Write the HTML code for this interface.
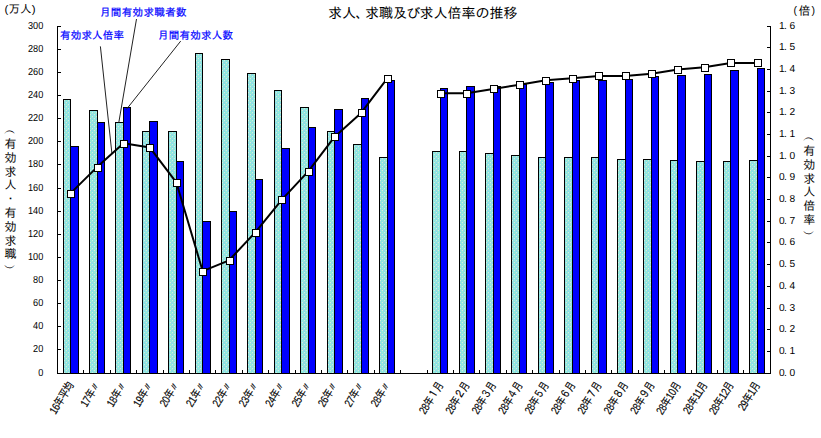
<!DOCTYPE html>
<html lang="ja"><head><meta charset="utf-8"><title>求人、求職及び求人倍率の推移</title>
<style>html,body{margin:0;padding:0;background:#fff}svg{display:block}text{font-family:"Liberation Sans", "IPAGothic", sans-serif;fill:#000}.x text{stroke:#000;stroke-width:0.15px}.b text{stroke:#00f;stroke-width:0.2px}.n text{stroke:none}</style>
</head><body>
<svg width="821" height="438" viewBox="0 0 821 438">
<rect x="0" y="0" width="821" height="438" fill="#fff"/>
<defs><pattern id="dp" width="4" height="4" patternUnits="userSpaceOnUse"><rect width="4" height="4" fill="#96d2eb"/><rect x="0" y="0" width="1" height="1" fill="#d7ebdc"/><rect x="1" y="0" width="1" height="1" fill="#87e8e4"/><rect x="2" y="0" width="1" height="1" fill="#9eead4"/><rect x="3" y="0" width="1" height="1" fill="#87e8e4"/><rect x="0" y="1" width="1" height="1" fill="#9eead4"/><rect x="2" y="1" width="1" height="1" fill="#87e8e4"/><rect x="3" y="1" width="1" height="1" fill="#9eead4"/><rect x="0" y="2" width="1" height="1" fill="#87e8e4"/><rect x="1" y="2" width="1" height="1" fill="#9eead4"/><rect x="2" y="2" width="1" height="1" fill="#d7ebdc"/><rect x="1" y="3" width="1" height="1" fill="#87e8e4"/><rect x="2" y="3" width="1" height="1" fill="#9eead4"/><rect x="3" y="3" width="1" height="1" fill="#87e8e4"/></pattern></defs>
<g shape-rendering="crispEdges" stroke="#000" stroke-width="1">
<rect x="63.5" y="99.5" width="7.0" height="274.0" fill="url(#dp)"/>
<rect x="70.5" y="146.5" width="8.0" height="227.0" fill="#0000ff"/>
<rect x="89.5" y="110.5" width="8.0" height="263.0" fill="url(#dp)"/>
<rect x="97.5" y="122.5" width="7.0" height="251.0" fill="#0000ff"/>
<rect x="115.5" y="122.5" width="8.0" height="251.0" fill="url(#dp)"/>
<rect x="123.5" y="107.5" width="7.0" height="266.0" fill="#0000ff"/>
<rect x="142.5" y="131.5" width="7.0" height="242.0" fill="url(#dp)"/>
<rect x="149.5" y="121.5" width="8.0" height="252.0" fill="#0000ff"/>
<rect x="168.5" y="131.5" width="8.0" height="242.0" fill="url(#dp)"/>
<rect x="176.5" y="161.5" width="7.0" height="212.0" fill="#0000ff"/>
<rect x="195.5" y="53.5" width="7.0" height="320.0" fill="url(#dp)"/>
<rect x="202.5" y="221.5" width="8.0" height="152.0" fill="#0000ff"/>
<rect x="221.5" y="59.5" width="8.0" height="314.0" fill="url(#dp)"/>
<rect x="229.5" y="211.5" width="7.0" height="162.0" fill="#0000ff"/>
<rect x="247.5" y="73.5" width="8.0" height="300.0" fill="url(#dp)"/>
<rect x="255.5" y="179.5" width="7.0" height="194.0" fill="#0000ff"/>
<rect x="274.5" y="90.5" width="7.0" height="283.0" fill="url(#dp)"/>
<rect x="281.5" y="148.5" width="8.0" height="225.0" fill="#0000ff"/>
<rect x="300.5" y="107.5" width="8.0" height="266.0" fill="url(#dp)"/>
<rect x="308.5" y="127.5" width="7.0" height="246.0" fill="#0000ff"/>
<rect x="327.5" y="131.5" width="7.0" height="242.0" fill="url(#dp)"/>
<rect x="334.5" y="109.5" width="8.0" height="264.0" fill="#0000ff"/>
<rect x="353.5" y="144.5" width="8.0" height="229.0" fill="url(#dp)"/>
<rect x="361.5" y="98.5" width="7.0" height="275.0" fill="#0000ff"/>
<rect x="379.5" y="157.5" width="8.0" height="216.0" fill="url(#dp)"/>
<rect x="387.5" y="80.5" width="7.0" height="293.0" fill="#0000ff"/>
<rect x="432.5" y="151.5" width="8.0" height="222.0" fill="url(#dp)"/>
<rect x="440.5" y="88.5" width="7.0" height="285.0" fill="#0000ff"/>
<rect x="459.5" y="151.5" width="7.0" height="222.0" fill="url(#dp)"/>
<rect x="466.5" y="86.5" width="8.0" height="287.0" fill="#0000ff"/>
<rect x="485.5" y="153.5" width="8.0" height="220.0" fill="url(#dp)"/>
<rect x="493.5" y="86.5" width="7.0" height="287.0" fill="#0000ff"/>
<rect x="511.5" y="155.5" width="8.0" height="218.0" fill="url(#dp)"/>
<rect x="519.5" y="84.5" width="7.0" height="289.0" fill="#0000ff"/>
<rect x="538.5" y="157.5" width="7.0" height="216.0" fill="url(#dp)"/>
<rect x="545.5" y="82.5" width="8.0" height="291.0" fill="#0000ff"/>
<rect x="564.5" y="157.5" width="8.0" height="216.0" fill="url(#dp)"/>
<rect x="572.5" y="80.5" width="7.0" height="293.0" fill="#0000ff"/>
<rect x="591.5" y="157.5" width="7.0" height="216.0" fill="url(#dp)"/>
<rect x="598.5" y="80.5" width="8.0" height="293.0" fill="#0000ff"/>
<rect x="617.5" y="159.5" width="8.0" height="214.0" fill="url(#dp)"/>
<rect x="625.5" y="79.5" width="7.0" height="294.0" fill="#0000ff"/>
<rect x="643.5" y="159.5" width="8.0" height="214.0" fill="url(#dp)"/>
<rect x="651.5" y="76.5" width="7.0" height="297.0" fill="#0000ff"/>
<rect x="670.5" y="160.5" width="7.0" height="213.0" fill="url(#dp)"/>
<rect x="677.5" y="75.5" width="8.0" height="298.0" fill="#0000ff"/>
<rect x="696.5" y="161.5" width="8.0" height="212.0" fill="url(#dp)"/>
<rect x="704.5" y="74.5" width="7.0" height="299.0" fill="#0000ff"/>
<rect x="723.5" y="161.5" width="7.0" height="212.0" fill="url(#dp)"/>
<rect x="730.5" y="70.5" width="8.0" height="303.0" fill="#0000ff"/>
<rect x="749.5" y="160.5" width="8.0" height="213.0" fill="url(#dp)"/>
<rect x="757.5" y="68.5" width="7.0" height="305.0" fill="#0000ff"/>
</g>
<g shape-rendering="crispEdges" stroke="#000" stroke-width="1" fill="none">
<path d="M57.5 26.0V374.0M57.0 373.5H771.0M770.5 26.0V374.0"/>
<path d="M57.5 373.5h3.5M57.5 349.5h3.5M57.5 326.5h3.5M57.5 303.5h3.5M57.5 280.5h3.5M57.5 257.5h3.5M57.5 234.5h3.5M57.5 211.5h3.5M57.5 188.5h3.5M57.5 164.5h3.5M57.5 141.5h3.5M57.5 118.5h3.5M57.5 95.5h3.5M57.5 72.5h3.5M57.5 49.5h3.5M57.5 26.5h3.5M770.5 373.5h-3.5M770.5 351.5h-3.5M770.5 329.5h-3.5M770.5 308.5h-3.5M770.5 286.5h-3.5M770.5 264.5h-3.5M770.5 242.5h-3.5M770.5 221.5h-3.5M770.5 199.5h-3.5M770.5 177.5h-3.5M770.5 156.5h-3.5M770.5 134.5h-3.5M770.5 112.5h-3.5M770.5 91.5h-3.5M770.5 69.5h-3.5M770.5 47.5h-3.5M770.5 26.5h-3.5M83.5 373.5v-3.5M110.5 373.5v-3.5M136.5 373.5v-3.5M163.5 373.5v-3.5M189.5 373.5v-3.5M215.5 373.5v-3.5M242.5 373.5v-3.5M268.5 373.5v-3.5M295.5 373.5v-3.5M321.5 373.5v-3.5M347.5 373.5v-3.5M374.5 373.5v-3.5M400.5 373.5v-3.5M427.5 373.5v-3.5M453.5 373.5v-3.5M479.5 373.5v-3.5M506.5 373.5v-3.5M532.5 373.5v-3.5M559.5 373.5v-3.5M585.5 373.5v-3.5M611.5 373.5v-3.5M638.5 373.5v-3.5M664.5 373.5v-3.5M691.5 373.5v-3.5M717.5 373.5v-3.5M743.5 373.5v-3.5"/>
</g>
<g stroke="#222" stroke-width="1" fill="none">
<line x1="100.4" y1="46.4" x2="111.9" y2="153.3"/>
<line x1="136.5" y1="19" x2="118.8" y2="122.5"/>
<line x1="180.7" y1="41.1" x2="126.4" y2="109.4"/>
</g>
<polyline points="70.7,193.1 97.1,167.1 123.5,143.2 149.9,147.6 176.3,182.3 202.7,271.2 229.1,260.3 255.5,232.1 281.9,199.6 308.3,171.4 334.7,136.7 361.1,112.9 387.5,78.2" fill="none" stroke="#000" stroke-width="2" stroke-linejoin="round"/>
<polyline points="440.3,93.3 466.7,93.3 493.1,89.0 519.5,84.7 545.9,80.3 572.3,78.2 598.7,76.0 625.1,76.0 651.5,73.8 677.9,69.5 704.3,67.3 730.7,63.0 757.1,63.0" fill="none" stroke="#000" stroke-width="2" stroke-linejoin="round"/>
<g shape-rendering="crispEdges" stroke="#000" stroke-width="1" fill="#fff">
<rect x="67.5" y="190.5" width="7" height="7"/>
<rect x="94.5" y="164.5" width="7" height="7"/>
<rect x="120.5" y="140.5" width="7" height="7"/>
<rect x="146.5" y="144.5" width="7" height="7"/>
<rect x="173.5" y="179.5" width="7" height="7"/>
<rect x="199.5" y="268.5" width="7" height="7"/>
<rect x="226.5" y="257.5" width="7" height="7"/>
<rect x="252.5" y="229.5" width="7" height="7"/>
<rect x="278.5" y="196.5" width="7" height="7"/>
<rect x="305.5" y="168.5" width="7" height="7"/>
<rect x="331.5" y="133.5" width="7" height="7"/>
<rect x="358.5" y="109.5" width="7" height="7"/>
<rect x="384.5" y="75.5" width="7" height="7"/>
<rect x="437.5" y="90.5" width="7" height="7"/>
<rect x="463.5" y="90.5" width="7" height="7"/>
<rect x="490.5" y="85.5" width="7" height="7"/>
<rect x="516.5" y="81.5" width="7" height="7"/>
<rect x="542.5" y="77.5" width="7" height="7"/>
<rect x="569.5" y="75.5" width="7" height="7"/>
<rect x="595.5" y="72.5" width="7" height="7"/>
<rect x="622.5" y="72.5" width="7" height="7"/>
<rect x="648.5" y="70.5" width="7" height="7"/>
<rect x="674.5" y="66.5" width="7" height="7"/>
<rect x="701.5" y="64.5" width="7" height="7"/>
<rect x="727.5" y="59.5" width="7" height="7"/>
<rect x="754.5" y="59.5" width="7" height="7"/>
</g>
<g font-size="10.2px" text-anchor="end" class="n" text-rendering="geometricPrecision">
<text x="43.3" y="376.0" textLength="5.1" lengthAdjust="spacingAndGlyphs">0</text>
<text x="43.3" y="352.0" textLength="10.2" lengthAdjust="spacingAndGlyphs">20</text>
<text x="43.3" y="329.0" textLength="10.2" lengthAdjust="spacingAndGlyphs">40</text>
<text x="43.3" y="306.0" textLength="10.2" lengthAdjust="spacingAndGlyphs">60</text>
<text x="43.3" y="283.0" textLength="10.2" lengthAdjust="spacingAndGlyphs">80</text>
<text x="43.3" y="260.0" textLength="15.3" lengthAdjust="spacingAndGlyphs">100</text>
<text x="43.3" y="237.0" textLength="15.3" lengthAdjust="spacingAndGlyphs">120</text>
<text x="43.3" y="214.0" textLength="15.3" lengthAdjust="spacingAndGlyphs">140</text>
<text x="43.3" y="191.0" textLength="15.3" lengthAdjust="spacingAndGlyphs">160</text>
<text x="43.3" y="167.0" textLength="15.3" lengthAdjust="spacingAndGlyphs">180</text>
<text x="43.3" y="144.0" textLength="15.3" lengthAdjust="spacingAndGlyphs">200</text>
<text x="43.3" y="121.0" textLength="15.3" lengthAdjust="spacingAndGlyphs">220</text>
<text x="43.3" y="98.0" textLength="15.3" lengthAdjust="spacingAndGlyphs">240</text>
<text x="43.3" y="75.0" textLength="15.3" lengthAdjust="spacingAndGlyphs">260</text>
<text x="43.3" y="52.0" textLength="15.3" lengthAdjust="spacingAndGlyphs">280</text>
<text x="43.3" y="29.0" textLength="15.3" lengthAdjust="spacingAndGlyphs">300</text>
</g>
<g font-size="10.2px" class="n" text-rendering="geometricPrecision">
<text x="778.9 784.1 789.6" y="376.0">0.0</text>
<text x="778.9 784.1 789.6" y="354.0">0.1</text>
<text x="778.9 784.1 789.6" y="332.0">0.2</text>
<text x="778.9 784.1 789.6" y="311.0">0.3</text>
<text x="778.9 784.1 789.6" y="289.0">0.4</text>
<text x="778.9 784.1 789.6" y="267.0">0.5</text>
<text x="778.9 784.1 789.6" y="245.0">0.6</text>
<text x="778.9 784.1 789.6" y="224.0">0.7</text>
<text x="778.9 784.1 789.6" y="202.0">0.8</text>
<text x="778.9 784.1 789.6" y="180.0">0.9</text>
<text x="778.9 784.1 789.6" y="159.0">1.0</text>
<text x="778.9 784.1 789.6" y="137.0">1.1</text>
<text x="778.9 784.1 789.6" y="115.0">1.2</text>
<text x="778.9 784.1 789.6" y="94.0">1.3</text>
<text x="778.9 784.1 789.6" y="72.0">1.4</text>
<text x="778.9 784.1 789.6" y="50.0">1.5</text>
<text x="778.9 784.1 789.6" y="29.0">1.6</text>
</g>
<g class="x" font-size="11px" text-anchor="end" style="letter-spacing:-0.5px">
<text transform="translate(74.2 385) rotate(-58) scale(0.83 1.04)">16年平均</text>
<text transform="translate(100.6 385) rotate(-58) scale(0.83 1.04)">17年〃</text>
<text transform="translate(127.0 385) rotate(-58) scale(0.83 1.04)">18年〃</text>
<text transform="translate(153.4 385) rotate(-58) scale(0.83 1.04)">19年〃</text>
<text transform="translate(179.8 385) rotate(-58) scale(0.83 1.04)">20年〃</text>
<text transform="translate(206.2 385) rotate(-58) scale(0.83 1.04)">21年〃</text>
<text transform="translate(232.6 385) rotate(-58) scale(0.83 1.04)">22年〃</text>
<text transform="translate(259.0 385) rotate(-58) scale(0.83 1.04)">23年〃</text>
<text transform="translate(285.4 385) rotate(-58) scale(0.83 1.04)">24年〃</text>
<text transform="translate(311.8 385) rotate(-58) scale(0.83 1.04)">25年〃</text>
<text transform="translate(338.2 385) rotate(-58) scale(0.83 1.04)">26年〃</text>
<text transform="translate(364.6 385) rotate(-58) scale(0.83 1.04)">27年〃</text>
<text transform="translate(391.0 385) rotate(-58) scale(0.83 1.04)">28年〃</text>
<text transform="translate(443.8 385) rotate(-58) scale(0.83 1.04)">28年１月</text>
<text transform="translate(470.2 385) rotate(-58) scale(0.83 1.04)">28年２月</text>
<text transform="translate(496.6 385) rotate(-58) scale(0.83 1.04)">28年３月</text>
<text transform="translate(523.0 385) rotate(-58) scale(0.83 1.04)">28年４月</text>
<text transform="translate(549.4 385) rotate(-58) scale(0.83 1.04)">28年５月</text>
<text transform="translate(575.8 385) rotate(-58) scale(0.83 1.04)">28年６月</text>
<text transform="translate(602.2 385) rotate(-58) scale(0.83 1.04)">28年７月</text>
<text transform="translate(628.6 385) rotate(-58) scale(0.83 1.04)">28年８月</text>
<text transform="translate(655.0 385) rotate(-58) scale(0.83 1.04)">28年９月</text>
<text transform="translate(681.4 385) rotate(-58) scale(0.83 1.04)">28年10月</text>
<text transform="translate(707.8 385) rotate(-58) scale(0.83 1.04)">28年11月</text>
<text transform="translate(734.2 385) rotate(-58) scale(0.83 1.04)">28年12月</text>
<text transform="translate(760.6 385) rotate(-58) scale(0.83 1.04)">29年1月</text>
</g>
<text x="328 342 355.5 365 379 393 406.5 419.5 433.5 447.5 461.5 475.5 489.5 503.5" y="18" font-size="14px">求人、求職及び求人倍率の推移</text>
<text x="4.5" y="13.3" font-size="11.5px" textLength="31" lengthAdjust="spacing">(万人)</text>
<text x="793.5 798.5 811.5" y="14.8" font-size="12px"><tspan font-size="10.5px" dy="-0.6">(</tspan><tspan dy="0.6">倍</tspan><tspan font-size="10.5px" dy="-0.6">)</tspan></text>
<g class="b" font-size="10.5px" style="fill:#0000ff" fill="#0000ff">
<text x="100" y="16" textLength="86.5" lengthAdjust="spacing" style="fill:#0000ff">月間有効求職者数</text>
<text x="60" y="38.8" textLength="64" lengthAdjust="spacing" style="fill:#0000ff">有効求人倍率</text>
<text x="158" y="38.8" textLength="75" lengthAdjust="spacing" style="fill:#0000ff">月間有効求人数</text>
</g>
<text x="10.4 10.4 10.4 10.4 10.4 10.4 10.4 10.4 10.4 10.4 10.4" y="134.1 147.9 161.7 175.5 189.3 203.1 216.9 230.7 244.5 258.3 272.1" font-size="12px" text-anchor="middle">︵有効求人・有効求職︶</text>
<text x="809.2 809.2 809.2 809.2 809.2 809.2 809.2 809.2" y="141.1 154.9 168.7 182.5 196.3 210.1 223.9 237.7" font-size="12px" text-anchor="middle">︵有効求人倍率︶</text>
</svg>
</body></html>
